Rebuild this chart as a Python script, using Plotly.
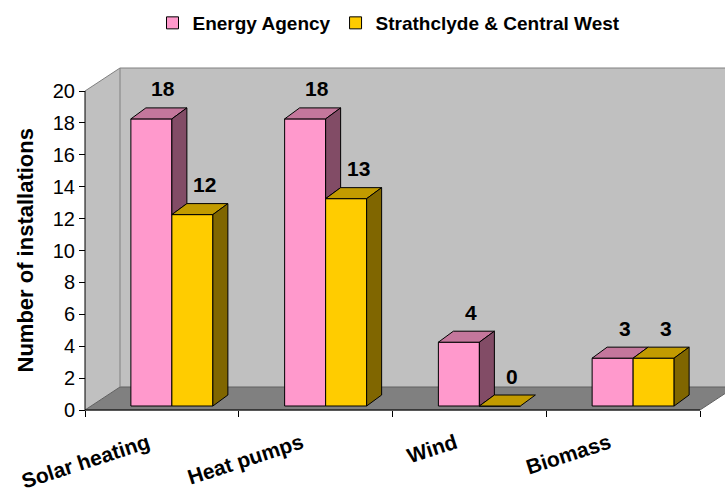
import plotly.graph_objects as go

# ---- data -------------------------------------------------------------
categories = ["Solar heating", "Heat pumps", "Wind", "Biomass"]
energy_agency = [18, 18, 4, 3]
strathclyde_cw = [12, 13, 0, 3]
series_names = ["Energy Agency", "Strathclyde & Central West"]
y_ticks = [0, 2, 4, 6, 8, 10, 12, 14, 16, 18, 20]

# ---- styling ----------------------------------------------------------
FONT = "Liberation Sans, Arial, sans-serif"
front_colors = ["#FF99CC", "#FFCC00"]
top_colors = ["#C4779C", "#C29B00"]
side_colors = ["#824C66", "#806600"]
WALL = "#C0C0C0"
FLOOR = "#808080"

# ---- geometry of the pseudo-3D box --------------------------------------
W, H = 725, 493
ML, MR, MT, MB = 83, 0, 50, 81
PX_X = 153.75          # pixels per category slot
PX_Y = 15.95           # pixels per unit on the value axis
x_lo = -0.5 - (85 - ML) / PX_X
x_hi = x_lo + (W - ML - MR) / PX_X
y_lo = -(H - MB - 410) / PX_Y
y_hi = y_lo + (H - MT - MB) / PX_Y

WALL_DX, WALL_DY = 35 / PX_X, 23 / PX_Y     # depth of floor / walls
BAR_DX, BAR_DY = 15 / PX_X, 11 / PX_Y       # depth of each bar
SHIFT_X, SHIFT_Y = 10 / PX_X, 4 / PX_Y      # bars sit inside the box
BAR_W = 41 / PX_X

n = len(categories)
left, right = -0.5, n - 0.5
top_val = y_ticks[-1]
series = [energy_agency, strathclyde_cw]
offsets = [SHIFT_X - BAR_W / 2, SHIFT_X + BAR_W / 2]

fig = go.Figure()

# front faces
for s, vals in enumerate(series):
    fig.add_trace(go.Bar(
        x=[i + offsets[s] for i in range(n)], y=vals, base=SHIFT_Y,
        width=BAR_W, name=series_names[s],
        marker=dict(color=front_colors[s], line=dict(color="black", width=1)),
        hoverinfo="skip",
    ))


def poly(xs, ys):
    return list(xs) + [None], list(ys) + [None]


# top and side faces
for s, vals in enumerate(series):
    tx, ty, sx, sy = [], [], [], []
    for i, v in enumerate(vals):
        xl = i + offsets[s] - BAR_W / 2
        xr = xl + BAR_W
        b = SHIFT_Y
        t = b + v
        px, py = poly([xl, xl + BAR_DX, xr + BAR_DX, xr, xl],
                      [t, t + BAR_DY, t + BAR_DY, t, t])
        tx += px; ty += py
        # part of the side that is not hidden by the next bar in the group
        lo = b
        if s + 1 < len(series):
            lo = max(lo, b + series[s + 1][i])
        if v > 0 and t > lo:
            px, py = poly([xr, xr, xr + BAR_DX, xr + BAR_DX, xr],
                          [lo, t, t + BAR_DY, lo + BAR_DY, lo])
            sx += px; sy += py
    fig.add_trace(go.Scatter(x=tx, y=ty, mode="lines", fill="toself",
                             fillcolor=top_colors[s],
                             line=dict(color="black", width=1),
                             showlegend=False, hoverinfo="skip"))
    if sx:
        fig.add_trace(go.Scatter(x=sx, y=sy, mode="lines", fill="toself",
                                 fillcolor=side_colors[s],
                                 line=dict(color="black", width=1),
                                 showlegend=False, hoverinfo="skip"))

# value labels
for s, vals in enumerate(series):
    for i, v in enumerate(vals):
        fig.add_annotation(
            x=i + offsets[s] + 12 / PX_X, y=SHIFT_Y + v + BAR_DY,
            text=f"<b>{v}</b>", showarrow=False, yanchor="middle", yshift=19,
            font=dict(family=FONT, size=21, color="black"),
        )

# walls, floor and axis lines
def path(pts):
    return "M " + " L ".join(f"{x},{y}" for x, y in pts) + " Z"

shapes = [
    dict(type="path", layer="below", line=dict(width=0), fillcolor=WALL,
         path=path([(left + WALL_DX, WALL_DY), (x_hi + 1, WALL_DY),
                    (x_hi + 1, top_val + WALL_DY), (left + WALL_DX, top_val + WALL_DY)])),
    dict(type="path", layer="below", line=dict(width=0), fillcolor=WALL,
         path=path([(left, 0), (left, top_val), (left + WALL_DX, top_val + WALL_DY),
                    (left + WALL_DX, WALL_DY)])),
    dict(type="path", layer="below", line=dict(color="#606060", width=1), fillcolor=FLOOR,
         path=path([(left, 0), (right, 0), (right + WALL_DX, WALL_DY),
                    (left + WALL_DX, WALL_DY)])),
    dict(type="line", layer="below", line=dict(color="#808080", width=1),
         x0=left + WALL_DX, y0=WALL_DY, x1=left + WALL_DX, y1=top_val + WALL_DY),
    dict(type="line", layer="below", line=dict(color="#808080", width=1),
         x0=left, y0=top_val, x1=left + WALL_DX, y1=top_val + WALL_DY),
    dict(type="line", layer="below", line=dict(color="#808080", width=1),
         x0=left + WALL_DX, y0=top_val + WALL_DY, x1=x_hi + 1, y1=top_val + WALL_DY),
    dict(type="line", layer="above", line=dict(color="black", width=1),
         x0=left, y0=0, x1=left, y1=top_val),
    dict(type="line", layer="above", line=dict(color="black", width=1),
         x0=left, y0=0, x1=right, y1=0),
]

fig.update_layout(
    width=W, height=H,
    margin=dict(l=ML, r=MR, t=MT, b=MB, pad=0, autoexpand=False),
    paper_bgcolor="white", plot_bgcolor="white",
    barmode="overlay",
    shapes=shapes,
    showlegend=True,
    legend=dict(orientation="h", x=(389 - ML) / (W - ML - MR), xanchor="center",
                y=1 + (MT - 23) / (H - MT - MB), yanchor="middle",
                font=dict(family=FONT, size=19, color="black", weight="bold"),
                bgcolor="rgba(0,0,0,0)"),
    xaxis=dict(
        range=[x_lo, x_hi], tickmode="array", tickvals=list(range(n)),
        ticktext=[f"<b>{c}</b>" for c in categories],
        tickangle=-18, ticks="outside", ticklen=0,
        ticklabelshift=-14, ticklabelstandoff=12,
        tickfont=dict(family=FONT, size=21, color="black"),
        minor=dict(tickmode="array", tickvals=[k - 0.5 for k in range(n + 1)],
                   ticks="outside", ticklen=6, tickcolor="black", showgrid=False),
        showgrid=False, zeroline=False, showline=False, automargin=False,
        anchor="free", position=(H - MB - 410) / (H - MT - MB),
        fixedrange=True,
    ),
    yaxis=dict(
        range=[y_lo, y_hi], tickmode="array", tickvals=y_ticks,
        ticks="outside", ticklen=6, tickcolor="black",
        tickfont=dict(family=FONT, size=20, color="black"),
        showgrid=False, zeroline=False, showline=False, automargin=False,
        anchor="free", position=(85 - ML) / (W - ML - MR),
        fixedrange=True,
    ),
)

fig.add_annotation(
    text="<b>Number of installations</b>", textangle=-90, showarrow=False,
    xref="paper", x=(25 - ML) / (W - ML - MR), xanchor="center",
    yref="y", y=top_val / 2, yanchor="middle",
    font=dict(family=FONT, size=22, color="black"),
)

fig.write_html("out.html")
